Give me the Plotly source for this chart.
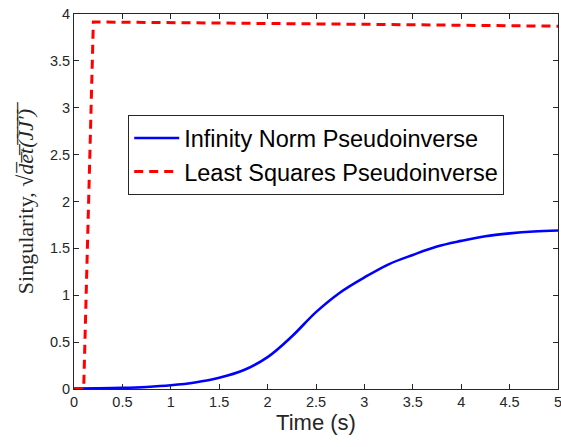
import plotly.graph_objects as go

# Time samples (s)
t_inf = [0, 0.25, 0.5, 0.75, 1.0, 1.25, 1.5, 1.75, 2.0, 2.25, 2.5, 2.75, 3.0,
         3.25, 3.5, 3.75, 4.0, 4.25, 4.5, 4.75, 5.0]
# Infinity norm pseudoinverse singularity measure
s_inf = [0.005, 0.007, 0.012, 0.022, 0.04, 0.07, 0.12, 0.20, 0.34, 0.56, 0.82,
         1.03, 1.19, 1.33, 1.43, 1.52, 1.58, 1.63, 1.66, 1.68, 1.69]

t_ls = [0, 0.1, 0.2, 1.0, 2.0, 3.0, 4.0, 5.0]
# Least squares pseudoinverse singularity measure
s_ls = [0.0, 0.0, 3.915, 3.91, 3.90, 3.89, 3.88, 3.87]

x_ticks = [0, 0.5, 1, 1.5, 2, 2.5, 3, 3.5, 4, 4.5, 5]
y_ticks = [0, 0.5, 1, 1.5, 2, 2.5, 3, 3.5, 4]

SANS = "Arial, Liberation Sans, Helvetica"
SERIF = "Times New Roman, Liberation Serif, serif"

fig = go.Figure()
fig.add_trace(go.Scatter(
    x=t_inf, y=s_inf, mode="lines", line=dict(color="#0000ff", width=2.6, shape="spline"),
    name="Infinity Norm Pseudoinverse"))
fig.add_trace(go.Scatter(
    x=t_ls, y=s_ls, mode="lines", line=dict(color="#ff0000", width=3, dash="9px,6px"),
    name="Least Squares Pseudoinverse"))

axis_common = dict(
    showgrid=False, zeroline=False, showline=True, linecolor="#262626", linewidth=1,
    mirror="ticks", ticks="inside", ticklen=5, tickcolor="#262626",
    tickfont=dict(family=SANS, size=14.5, color="#262626"),
    ticklabeloverflow="allow", automargin=False,
)

overlined = "".join(ch + "\u0305" for ch in "det(JJ′)")

fig.update_layout(
    width=561, height=447,
    margin=dict(l=74, r=3, t=14, b=58),
    paper_bgcolor="white", plot_bgcolor="white",
    xaxis=dict(range=[0, 5], tickvals=x_ticks, ticktext=[f"{v:g}" for v in x_ticks],
               title=dict(text="Time (s)", standoff=4,
                          font=dict(family=SANS, size=22, color="#262626")),
               **axis_common),
    yaxis=dict(range=[0, 4], tickvals=y_ticks, ticktext=[f"{v:g}" for v in y_ticks],
               title=dict(text="Singularity, √<i>" + overlined + "</i>", standoff=10,
                          font=dict(family=SERIF, size=22, color="#262626")),
               **axis_common),
    legend=dict(x=0.112, y=0.73, xanchor="left", yanchor="top",
                bgcolor="white", bordercolor="#262626", borderwidth=1,
                font=dict(family=SANS, size=23.5, color="black"),
                tracegroupgap=0, itemwidth=45),
    showlegend=True,
)

fig.write_html("out.html")
